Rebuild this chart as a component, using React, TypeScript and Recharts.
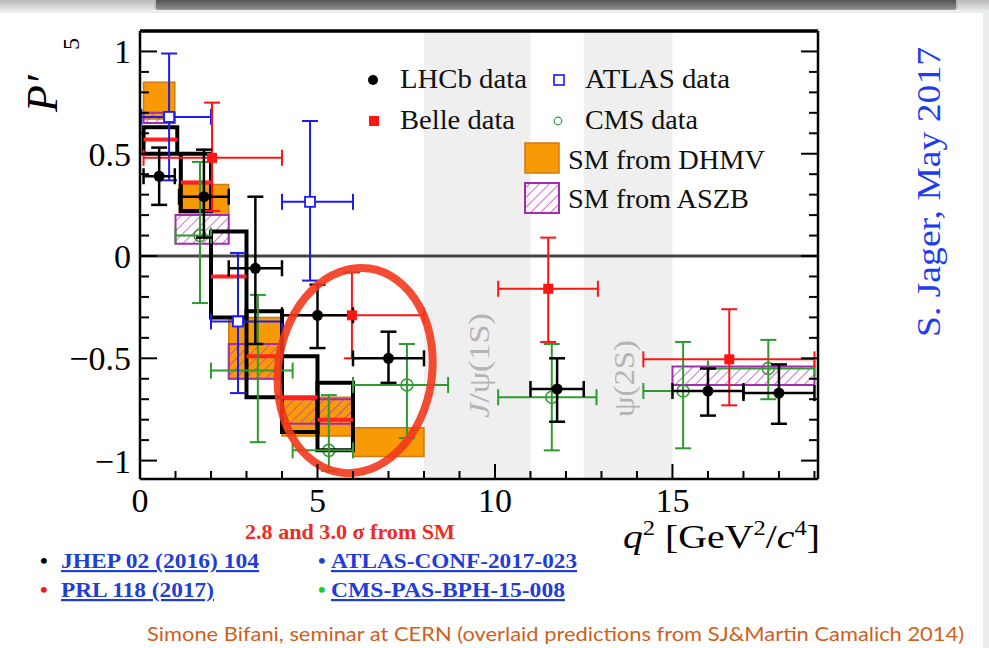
import {
  ComposedChart,
  ErrorBar,
  ReferenceArea,
  ReferenceDot,
  ReferenceLine,
  Scatter,
  XAxis,
  YAxis,
} from "recharts";

const SERIF = '"Liberation Serif", "Times New Roman", serif';

// axis ticks (minor every 1 GeV2 / 0.1, labels on the majors)
const Q2_TICKS = [0, 1, 2, 3, 4, 5, 6, 7, 8, 9, 10, 11, 12, 13, 14, 15, 16, 17, 18, 19];
const P5_TICKS = [
  -1, -0.9, -0.8, -0.7, -0.6, -0.5, -0.4, -0.3, -0.2, -0.1, 0, 0.1, 0.2, 0.3, 0.4, 0.5,
  0.6, 0.7, 0.8, 0.9, 1,
];

// charmonium veto regions
const VETO_BANDS: [number, number][] = [
  [8, 11],
  [12.5, 15],
];

// LHCb
const LHCB_BINS: [number, number][] = [
  [0.1, 0.98], [1.1, 2.5], [2.5, 4], [4, 6], [6, 8], [11, 12.5], [15, 17], [17, 19],
];
const LHCB_Q2 = [0.54, 1.8, 3.25, 5.0, 7.0, 11.75, 16.0, 18.0];
const LHCB_P5 = [0.39, 0.29, -0.06, -0.29, -0.5, -0.65, -0.66, -0.67];
const LHCB_ERR_DN = [0.14, 0.2, 0.37, 0.16, 0.12, 0.16, 0.12, 0.15];
const LHCB_ERR_UP = [0.14, 0.23, 0.35, 0.15, 0.13, 0.15, 0.11, 0.14];

// Belle
const BELLE_BINS: [number, number][] = [
  [0.1, 4], [4, 8], [10.09, 12.9], [14.18, 19],
];
const BELLE_Q2 = [2.03, 5.97, 11.5, 16.6];
const BELLE_P5 = [0.48, -0.29, -0.16, -0.505];
const BELLE_ERR_DN = [0.26, 0.21, 0.26, 0.225];
const BELLE_ERR_UP = [0.27, 0.21, 0.25, 0.245];

// ATLAS
const ATLAS_BINS: [number, number][] = [
  [0.04, 2], [2, 4], [4, 6],
];
const ATLAS_Q2 = [0.82, 2.76, 4.79];
const ATLAS_P5 = [0.68, -0.32, 0.265];
const ATLAS_ERR_DN = [0.31, 0.35, 0.385];
const ATLAS_ERR_UP = [0.31, 0.335, 0.395];

// CMS
const CMS_BINS: [number, number][] = [
  [1, 2], [2, 4.3], [4.3, 6], [6, 8.68], [10.09, 12.86], [14.18, 16], [16, 19],
];
const CMS_Q2 = [1.69, 3.32, 5.32, 7.52, 11.6, 15.3, 17.7];
const CMS_P5 = [0.1, -0.56, -0.95, -0.63, -0.69, -0.66, -0.55];
const CMS_ERR_DN = [0.33, 0.35, 0.1, 0.26, 0.26, 0.28, 0.15];
const CMS_ERR_UP = [0.36, 0.37, 0.27, 0.2, 0.26, 0.24, 0.14];

// SM from DHMV
const DHMV_BINS: [number, number][] = [
  [0.1, 0.98], [1.1, 2.5], [2.5, 4], [4, 6], [6, 8],
];
const DHMV_LO = [0.67, 0.2, -0.6, -0.88, -0.98];
const DHMV_HI = [0.85, 0.35, -0.3, -0.69, -0.84];

// SM from ASZB
const ASZB_BINS: [number, number][] = [
  [0.1, 0.98], [1.0, 2.5], [2.5, 4], [4, 6], [15, 19],
];
const ASZB_LO = [0.65, 0.06, -0.6, -0.82, -0.63];
const ASZB_HI = [0.7, 0.2, -0.43, -0.7, -0.54];

// SJ & Martin Camalich 2014 (range + central value)
const SJMC_BINS: [number, number][] = [
  [0.1, 1.05], [1.15, 2], [2, 3], [3, 4], [4, 5], [5, 6],
];
const SJMC_LO = [0.5, 0.22, -0.3, -0.69, -0.86, -0.95];
const SJMC_HI = [0.63, 0.5, 0.12, -0.27, -0.49, -0.62];
const SJMC_CENTRAL = [0.57, 0.36, -0.1, -0.49, -0.69, -0.8];

// highlighted region
const TENSION_CENTER = { q2: 6.06, p5: -0.56 };

const toPoints = (
  q2: number[],
  p5: number[],
  bins: [number, number][],
  dn: number[],
  up: number[]
) =>
  q2.map((q, i) => ({
    q,
    p5: p5[i],
    ex: [q - bins[i][0], bins[i][1] - q],
    ey: [dn[i], up[i]],
  }));

const lhcb = toPoints(LHCB_Q2, LHCB_P5, LHCB_BINS, LHCB_ERR_DN, LHCB_ERR_UP);
const belle = toPoints(BELLE_Q2, BELLE_P5, BELLE_BINS, BELLE_ERR_DN, BELLE_ERR_UP);
const atlas = toPoints(ATLAS_Q2, ATLAS_P5, ATLAS_BINS, ATLAS_ERR_DN, ATLAS_ERR_UP);
const cms = toPoints(CMS_Q2, CMS_P5, CMS_BINS, CMS_ERR_DN, CMS_ERR_UP);

const isMajor = (v: number, step: number) =>
  Math.abs(v / step - Math.round(v / step)) < 1e-6;

const fmt = (v: number) => (v < 0 ? "\u2212" + Math.abs(v) : String(v));

const BottomTick = (props: any) => {
  const { x, y, payload } = props;
  const major = isMajor(payload.value, 5);
  return (
    <g>
      <line x1={x} x2={x} y1={y} y2={y - (major ? 15 : 8)} stroke="#000" strokeWidth={2} />
      {major && (
        <text x={x} y={y + 33} textAnchor="middle" fontSize={34} fontFamily={SERIF} fill="#000">
          {payload.value}
        </text>
      )}
    </g>
  );
};

const TopTick = (props: any) => {
  const { x, y, payload } = props;
  const major = isMajor(payload.value, 5);
  return <line x1={x} x2={x} y1={y} y2={y + (major ? 15 : 8)} stroke="#000" strokeWidth={2} />;
};

const LeftTick = (props: any) => {
  const { x, y, payload } = props;
  const major = isMajor(payload.value, 0.5);
  return (
    <g>
      <line x1={x} x2={x + (major ? 17 : 9)} y1={y} y2={y} stroke="#000" strokeWidth={2} />
      {major && (
        <text x={x - 9} y={y + 12} textAnchor="end" fontSize={34} fontFamily={SERIF} fill="#000">
          {fmt(payload.value)}
        </text>
      )}
    </g>
  );
};

const RightTick = (props: any) => {
  const { x, y, payload } = props;
  const major = isMajor(payload.value, 0.5);
  return <line x1={x} x2={x - (major ? 17 : 9)} y1={y} y2={y} stroke="#000" strokeWidth={2} />;
};

const ids = { xAxisId: "b", yAxisId: "l" } as const;

export default function App() {
  return (
    <div
      style={{
        position: "absolute",
        left: 0,
        top: 0,
        width: 989,
        height: 648,
        background: "#fff",
        overflow: "hidden",
      }}
    >
      {/* slide chrome */}
      <div style={{ position: "absolute", left: 0, top: 0, width: 989, height: 10, background: "linear-gradient(#b9b9b9, #e4e4e4)" }} />
      <div style={{ position: "absolute", left: 156, top: 0, width: 800, height: 9, background: "linear-gradient(#555, #8a8a8a)", boxShadow: "0 2px 3px rgba(0,0,0,0.35)" }} />
      <div style={{ position: "absolute", left: 0, top: 10, width: 989, height: 3, background: "#e9eded" }} />
      <div style={{ position: "absolute", left: 983, top: 10, width: 6, height: 638, background: "#e9eded" }} />

      <div style={{ position: "absolute", left: 0, top: 0 }}>
        <ComposedChart width={989} height={648} margin={{ top: 11, right: 151, bottom: 139, left: 80 }}>
          <defs>
            <pattern id="aszbHatch" patternUnits="userSpaceOnUse" width={7} height={7} patternTransform="rotate(45)">
              <line x1={0} y1={0} x2={0} y2={7} stroke="#b23cb8" strokeWidth={1.4} />
            </pattern>
          </defs>
          <XAxis
            xAxisId="b"
            dataKey="q"
            type="number"
            domain={[0, 19.1]}
            allowDataOverflow
            ticks={Q2_TICKS}
            interval={0}
            height={30}
            tickSize={0}
            tickMargin={0}
            tick={BottomTick}
            axisLine={{ stroke: "#000", strokeWidth: 2.5 }}
          />
          <XAxis
            xAxisId="t"
            orientation="top"
            type="number"
            domain={[0, 19.1]}
            allowDataOverflow
            ticks={Q2_TICKS}
            interval={0}
            height={20}
            tickSize={0}
            tickMargin={0}
            tick={TopTick}
            axisLine={{ stroke: "#000", strokeWidth: 3.5 }}
          />
          <YAxis
            yAxisId="l"
            dataKey="p5"
            type="number"
            domain={[-1.09, 1.1]}
            allowDataOverflow
            ticks={P5_TICKS}
            interval={0}
            width={60}
            tickSize={0}
            tickMargin={0}
            tick={LeftTick}
            axisLine={{ stroke: "#000", strokeWidth: 2.5 }}
          />
          <YAxis
            yAxisId="r"
            orientation="right"
            type="number"
            domain={[-1.09, 1.1]}
            allowDataOverflow
            ticks={P5_TICKS}
            interval={0}
            width={20}
            tickSize={0}
            tickMargin={0}
            tick={RightTick}
            axisLine={{ stroke: "#000", strokeWidth: 2.5 }}
          />

          {VETO_BANDS.map(([a, b]) => (
            <ReferenceArea key={`veto${a}`} {...ids} x1={a} x2={b} fill="#efefef" fillOpacity={1} stroke="none" zIndex={10} />
          ))}
          <ReferenceLine {...ids} y={0} stroke="#444" strokeWidth={3} zIndex={20} />

          {/* CMS sits underneath the prediction boxes */}
          <Scatter
            {...ids}
            data={cms}
            isAnimationActive={false}
            zIndex={25}
            shape={(p: any) => <circle cx={p.cx} cy={p.cy} r={6} fill="#fff" stroke="#2f9a2f" strokeWidth={1.5} />}
          >
            <ErrorBar dataKey="ey" direction="y" width={8} stroke="#2f9a2f" strokeWidth={2} />
            <ErrorBar dataKey="ex" direction="x" width={8} stroke="#2f9a2f" strokeWidth={2} />
          </Scatter>

          {DHMV_BINS.map(([a, b], i) => (
            <ReferenceArea
              key={`dhmv${i}`}
              {...ids}
              x1={a}
              x2={b}
              y1={DHMV_LO[i]}
              y2={DHMV_HI[i]}
              fill="#f79a06"
              fillOpacity={1}
              stroke="#cf7a10"
              strokeWidth={1.5}
              zIndex={30}
            />
          ))}
          {ASZB_BINS.map(([a, b], i) => (
            <ReferenceArea
              key={`aszb${i}`}
              {...ids}
              x1={a}
              x2={b}
              y1={ASZB_LO[i]}
              y2={ASZB_HI[i]}
              fill="url(#aszbHatch)"
              fillOpacity={1}
              stroke="#a22db0"
              strokeWidth={2}
              zIndex={40}
            />
          ))}
          {SJMC_BINS.map(([a, b], i) => (
            <ReferenceArea
              key={`sjmc${i}`}
              {...ids}
              x1={a}
              x2={b}
              y1={SJMC_LO[i]}
              y2={SJMC_HI[i]}
              fill="none"
              fillOpacity={0}
              stroke="#000"
              strokeWidth={4}
              zIndex={50}
            />
          ))}
          {SJMC_BINS.map(([a, b], i) => (
            <ReferenceLine
              key={`sjmcc${i}`}
              {...ids}
              segment={[
                { x: a, y: SJMC_CENTRAL[i] },
                { x: b, y: SJMC_CENTRAL[i] },
              ]}
              stroke="#ff2222"
              strokeWidth={4}
              zIndex={60}
            />
          ))}

          <Scatter
            {...ids}
            data={atlas}
            isAnimationActive={false}
            zIndex={610}
            shape={(p: any) => <rect x={p.cx - 5} y={p.cy - 5} width={10} height={10} fill="#fff" stroke="#1c1cf0" strokeWidth={1.8} />}
          >
            <ErrorBar dataKey="ey" direction="y" width={8} stroke="#1c1cf0" strokeWidth={2} />
            <ErrorBar dataKey="ex" direction="x" width={8} stroke="#1c1cf0" strokeWidth={2} />
          </Scatter>
          <Scatter
            {...ids}
            data={belle}
            isAnimationActive={false}
            zIndex={620}
            shape={(p: any) => <rect x={p.cx - 5} y={p.cy - 5} width={10} height={10} fill="#ff1414" />}
          >
            <ErrorBar dataKey="ey" direction="y" width={8} stroke="#ff1414" strokeWidth={2} />
            <ErrorBar dataKey="ex" direction="x" width={8} stroke="#ff1414" strokeWidth={2} />
          </Scatter>
          <Scatter
            {...ids}
            data={lhcb}
            isAnimationActive={false}
            zIndex={630}
            shape={(p: any) => <circle cx={p.cx} cy={p.cy} r={5.5} fill="#000" />}
          >
            <ErrorBar dataKey="ey" direction="y" width={8} stroke="#000" strokeWidth={2.5} />
            <ErrorBar dataKey="ex" direction="x" width={8} stroke="#000" strokeWidth={2.5} />
          </Scatter>

          <ReferenceDot
            {...ids}
            x={TENSION_CENTER.q2}
            y={TENSION_CENTER.p5}
            zIndex={700}
            shape={(p: any) => (
              <ellipse
                cx={p.cx}
                cy={p.cy}
                rx={77}
                ry={103}
                fill="none"
                stroke="#f2391d"
                strokeWidth={8}
                strokeOpacity={0.9}
                transform={`rotate(8 ${p.cx} ${p.cy})`}
              />
            )}
          />
        </ComposedChart>
      </div>

      {/* annotations, legend and labels */}
      <svg width={989} height={648} style={{ position: "absolute", left: 0, top: 0, pointerEvents: "none" }}>
        <defs>
          <pattern id="legendHatch" patternUnits="userSpaceOnUse" width={7} height={7} patternTransform="rotate(45)">
            <line x1={0} y1={0} x2={0} y2={7} stroke="#b23cb8" strokeWidth={1.4} />
          </pattern>
        </defs>
        <g fontFamily={SERIF} fill="#111">
          <circle cx={373} cy={80} r={5} fill="#000" />
          <text x={400} y={88} fontSize={27} textLength={127} lengthAdjust="spacingAndGlyphs">LHCb data</text>
          <rect x={554} y={75} width={10} height={10} fill="#fff" stroke="#1c1cf0" strokeWidth={1.6} />
          <text x={585} y={88} fontSize={27} textLength={145} lengthAdjust="spacingAndGlyphs">ATLAS data</text>
          <rect x={369} y={116} width={10} height={10} fill="#ff1414" />
          <text x={400} y={129} fontSize={27} textLength={115} lengthAdjust="spacingAndGlyphs">Belle data</text>
          <circle cx={558} cy={121} r={3.8} fill="#fff" stroke="#2f9a2f" strokeWidth={1.2} />
          <text x={585} y={129} fontSize={27} textLength={113} lengthAdjust="spacingAndGlyphs">CMS data</text>
          <rect x={525} y={143} width={34} height={30} fill="#f79a06" stroke="#cf7a10" strokeWidth={1.5} />
          <text x={568} y={169} fontSize={27} textLength={197} lengthAdjust="spacingAndGlyphs">SM from DHMV</text>
          <rect x={525} y={183} width={34} height={30} fill="url(#legendHatch)" stroke="#a22db0" strokeWidth={2} />
          <text x={568} y={208} fontSize={27} textLength={181} lengthAdjust="spacingAndGlyphs">SM from ASZB</text>
        </g>

        <g fontFamily={SERIF} fill="#b4b4b4" fontSize={30}>
          <text transform="translate(489 418) rotate(-90)" textLength={105} lengthAdjust="spacingAndGlyphs">
            <tspan fontStyle="italic">J</tspan>/ψ(1S)
          </text>
          <text transform="translate(634 417) rotate(-90)" textLength={77} lengthAdjust="spacingAndGlyphs">ψ(2S)</text>
        </g>

        <g fontFamily={SERIF} fill="#000">
          <text transform="translate(57 112) rotate(-90)" fontSize={44} fontStyle="italic">P′</text>
          <text transform="translate(79 50) rotate(-90)" fontSize={24}>5</text>
          <text x={623} y={548} fontSize={34} textLength={197} lengthAdjust="spacingAndGlyphs">
            <tspan fontStyle="italic">q</tspan>
            <tspan fontSize={21} dy={-13}>2</tspan>
            <tspan dy={13}> [GeV</tspan>
            <tspan fontSize={21} dy={-13}>2</tspan>
            <tspan dy={13}>/</tspan>
            <tspan fontStyle="italic">c</tspan>
            <tspan fontSize={21} dy={-13}>4</tspan>
            <tspan dy={13}>]</tspan>
          </text>
        </g>

        <text x={245} y={539} fontFamily={SERIF} fontWeight="bold" fontSize={21} fill="#ee2b24" textLength={210} lengthAdjust="spacingAndGlyphs">
          2.8 and 3.0 σ from SM
        </text>

        <g fontFamily={SERIF} fontWeight="bold" fontSize={22}>
          <text x={40} y={568} fill="#000">•</text>
          <text x={61} y={568} fill="#1f3ed6" textDecoration="underline" textLength={198} lengthAdjust="spacingAndGlyphs">JHEP 02 (2016) 104</text>
          <text x={40} y={597} fill="#ff1414">•</text>
          <text x={61} y={597} fill="#1f3ed6" textDecoration="underline" textLength={153} lengthAdjust="spacingAndGlyphs">PRL 118 (2017)</text>
          <text x={318} y={568} fill="#1f3ed6">•</text>
          <text x={331} y={568} fill="#1f3ed6" textDecoration="underline" textLength={246} lengthAdjust="spacingAndGlyphs">ATLAS-CONF-2017-023</text>
          <text x={318} y={597} fill="#22cc22">•</text>
          <text x={331} y={597} fill="#1f3ed6" textDecoration="underline" textLength={234} lengthAdjust="spacingAndGlyphs">CMS-PAS-BPH-15-008</text>
        </g>

        <text
          transform="translate(940 337) rotate(-90)"
          fontFamily={SERIF}
          fontSize={34}
          fill="#1d3cf2"
          textLength={290}
          lengthAdjust="spacingAndGlyphs"
        >
          S. Jager, May 2017
        </text>

        <text x={147} y={641} fontFamily="Lato, 'Open Sans', sans-serif" fontSize={20} fill="#d0601c" textLength={817} lengthAdjust="spacingAndGlyphs">
          Simone Bifani, seminar at CERN (overlaid predictions from SJ&amp;Martin Camalich 2014)
        </text>
      </svg>
    </div>
  );
}
